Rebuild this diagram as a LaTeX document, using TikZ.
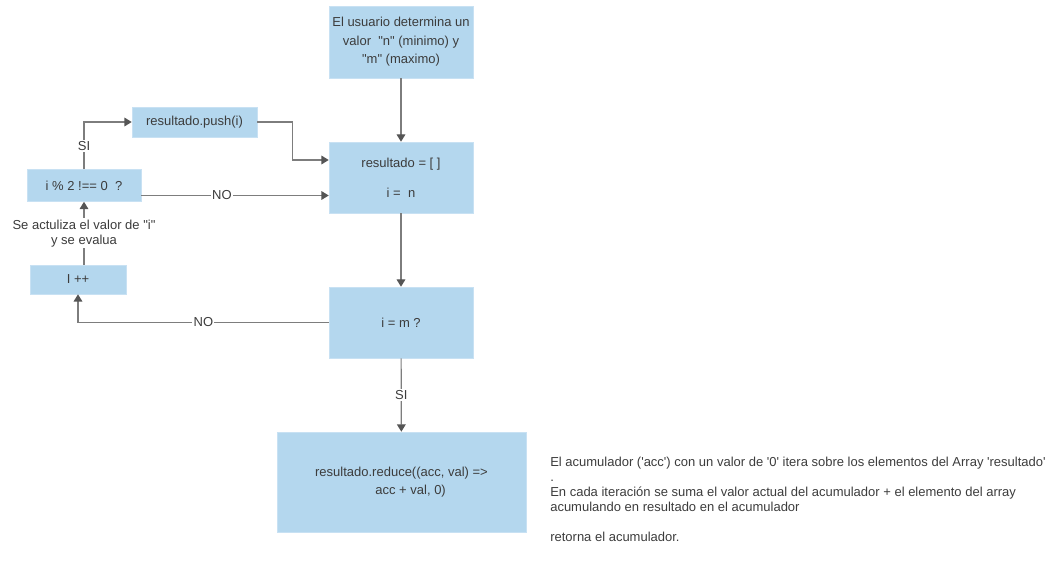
\documentclass[tikz,border=0pt]{standalone}
\usepackage{fontspec}
\setmainfont{Liberation Sans}[Ligatures=TeXOff]
\usetikzlibrary{arrows.meta,calc}
\definecolor{boxfill}{RGB}{180,215,238}
\definecolor{boxline}{RGB}{200,225,243}
\definecolor{txt}{RGB}{60,60,60}
\definecolor{wire}{RGB}{125,125,125}
\definecolor{tip}{RGB}{85,85,85}
\begin{document}
\begin{tikzpicture}[x=0.75pt,y=-0.75pt,
  font=\fontsize{9.75}{13.9}\selectfont, text=txt,
  box/.style={fill=boxfill, draw=boxline, line width=0.4pt, inner sep=0pt, align=center},
  flow/.style={draw=wire, line width=0.9pt, -{Triangle[length=5.5pt,width=6.5pt,color=tip]}},
  lbl/.style={fill=white, inner sep=1pt, font=\fontsize{9.75}{11.25}\selectfont}]
\useasboundingbox (0,0) rectangle (1060,570);

% main column
\node[box, minimum width=108pt, minimum height=54pt] (top) at (401,42)
  {El usuario determina un\\valor \ "n" (minimo) y\\"m" (maximo)};
\node[box, minimum width=108pt, minimum height=53.25pt] (init) at (401,177.5)
  {resultado = [ ]\\[8.5pt]i = \ n};
\node[box, minimum width=108pt, minimum height=53.25pt] (cond) at (401,322.5)
  {i = m ?};
\node[box, minimum width=186.75pt, minimum height=75pt] (reduce) at (401.5,482)
  {resultado.reduce((acc, val) =>\\\hspace*{1.4em}acc + val, 0)};

% loop on the left
\node[box, minimum width=93.75pt, minimum height=22.5pt] (push) at (194.5,122) {resultado.push(i)};
\node[box, minimum width=85.5pt, minimum height=24pt] (mod) at (84,185.5) {i \% 2 !== 0 \ ?};
\node[box, minimum width=72pt, minimum height=21.75pt] (inc) at (78,279.5) {I ++};

% note beside the reduce step
\node[anchor=north west, inner sep=0pt, align=left, font=\fontsize{9.75}{11.25}\selectfont] (note) at (550,456.5)
  {El acumulador ('acc') con un valor de '0' itera sobre los elementos del Array 'resultado'\\
   .\\
   En cada iteración se suma el valor actual del acumulador + el elemento del array\\
   acumulando en resultado en el acumulador\\[11.25pt]
   retorna el acumulador.};

% entry points on the left side of the init box
\coordinate (in1) at ($(init.west)+(0,-17.5)$);
\coordinate (in2) at ($(init.west)+(0,18)$);

% connectors
\draw[flow] (top) -- (init);
\draw[flow] (init) -- (cond);
\draw[flow] (cond) -- node[lbl]{SI} (reduce);
\draw[flow] (cond.west) -- node[lbl, pos=0.5]{NO} (cond.west -| inc.south) -- (inc.south);
\draw[flow] (inc.north -| mod.south) -- node[lbl, align=center]{Se actuliza el valor de "i"\\y se evalua} (mod.south);
\draw[flow] (mod.north) |- node[lbl, pos=0.25]{SI} (push.west);
\draw[flow] (push.east) -- ++(35,0) |- (in1);
\draw[flow] (mod.east |- in2) -- node[lbl, pos=0.43]{NO} (in2);
\end{tikzpicture}
\end{document}
